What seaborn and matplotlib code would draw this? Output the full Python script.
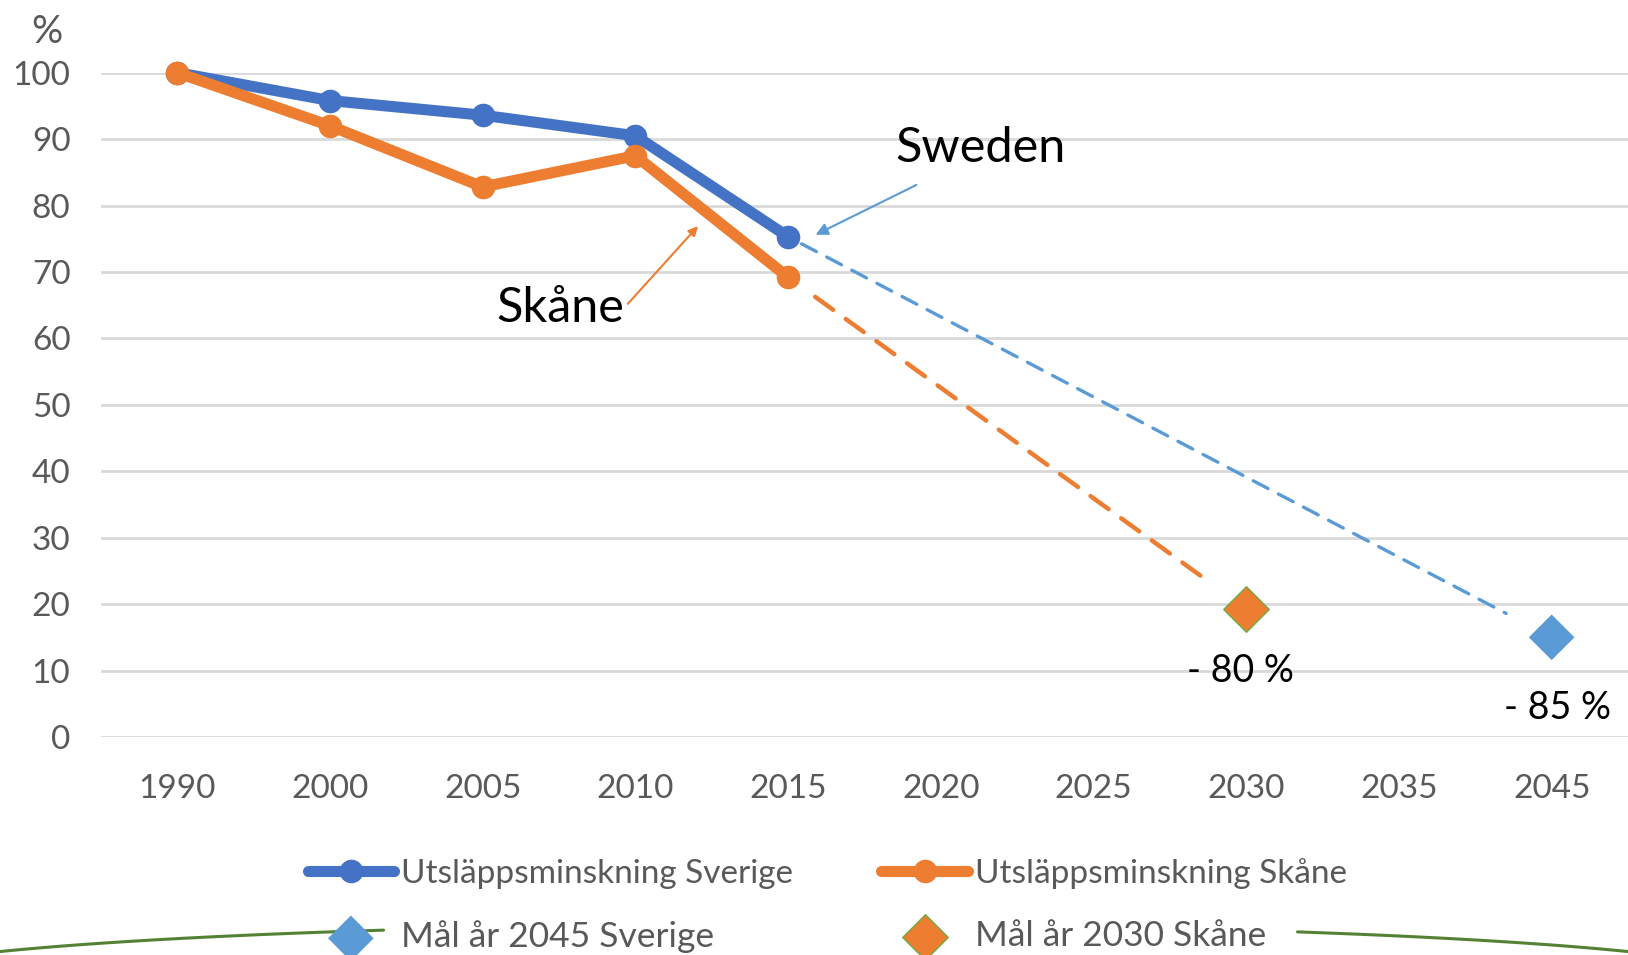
import numpy as np
import pandas as pd
import matplotlib.pyplot as plt
from matplotlib.lines import Line2D
import seaborn as sns

sns.set_theme(style="white")
plt.rcParams["font.family"] = ["Lato", "DejaVu Sans"]

# categories on the x axis (evenly spaced, as in the original)
years = ["1990", "2000", "2005", "2010", "2015", "2020", "2025", "2030", "2035", "2045"]
hist_years = ["1990", "2000", "2005", "2010", "2015"]
sverige = [100, 95.8, 93.6, 90.5, 75.3]
skane = [100, 92.0, 82.8, 87.5, 69.2]
goal_sverige_year, goal_sverige = "2045", 15.0
goal_skane_year, goal_skane = "2030", 19.3
goal_sverige_label = "- 85 %"
goal_skane_label = "- 80 %"
yticks = [0, 10, 20, 30, 40, 50, 60, 70, 80, 90, 100]

BLUE = "#4472C4"
LIGHT_BLUE = "#5B9BD5"
ORANGE = "#ED7D31"
GREEN = "#70AD47"
GREY = "#595959"

pos = {y: i for i, y in enumerate(years)}
df = pd.DataFrame({
    "x": [pos[y] for y in hist_years],
    "Sverige": sverige,
    "Skane": skane,
})

fig = plt.figure(figsize=(16.28, 9.55), dpi=100)
ax = fig.add_axes([0.062, 0.2283, 0.938, 0.6956])

sns.lineplot(data=df, x="x", y="Sverige", ax=ax, color=BLUE, lw=8, marker="o",
             markersize=17, markeredgewidth=0, label="Utsläppsminskning Sverige",
             clip_on=False, zorder=4)
sns.lineplot(data=df, x="x", y="Skane", ax=ax, color=ORANGE, lw=8, marker="o",
             markersize=17, markeredgewidth=0, label="Utsläppsminskning Skåne",
             clip_on=False, zorder=5)

# dashed projections towards the goals
ax.annotate("", xy=(pos[goal_sverige_year], goal_sverige), xytext=(pos["2015"], sverige[-1]),
            arrowprops=dict(arrowstyle="-", color=LIGHT_BLUE, lw=2.4, linestyle=(0, (5, 3.5)),
                            shrinkA=11, shrinkB=37))
ax.annotate("", xy=(pos[goal_skane_year], goal_skane), xytext=(pos["2015"], skane[-1]),
            arrowprops=dict(arrowstyle="-", color=ORANGE, lw=3.2, linestyle=(0, (5, 3.5)),
                            shrinkA=24, shrinkB=30))

sns.scatterplot(x=[pos[goal_sverige_year]], y=[goal_sverige], ax=ax, marker="D", s=540,
                color=LIGHT_BLUE, edgecolor="none", label="Mål år 2045 Sverige", zorder=6)
sns.scatterplot(x=[pos[goal_skane_year]], y=[goal_skane], ax=ax, marker="D", s=540,
                color=ORANGE, edgecolor=GREEN, linewidth=1, label="Mål år 2030 Skåne", zorder=6)

ax.text(pos[goal_skane_year] - 0.035, 10.0, goal_skane_label, ha="center", va="center",
        fontsize=27, color="black")
ax.text(pos[goal_sverige_year] + 0.04, 4.4, goal_sverige_label, ha="center", va="center",
        fontsize=27, color="black")

# series call-outs
ax.text(5.26, 88.6, "Sweden", ha="center", va="center", fontsize=35, color="black")
ax.annotate("", xy=(4.18, 75.6), xytext=(4.84, 83.1),
            arrowprops=dict(arrowstyle="-|>", color=LIGHT_BLUE, lw=1.5, mutation_scale=18,
                            shrinkA=0, shrinkB=0))
ax.text(2.51, 64.6, "Skåne", ha="center", va="center", fontsize=35, color="black")
ax.annotate("", xy=(3.41, 76.9), xytext=(2.95, 65.2),
            arrowprops=dict(arrowstyle="-|>", color=ORANGE, lw=1.5, mutation_scale=14,
                            shrinkA=0, shrinkB=0))

ax.set_xlim(-0.5, len(years) - 0.5)
ax.set_ylim(0, 100)
ax.set_xticks(range(len(years)))
ax.set_xticklabels(years)
ax.set_yticks(yticks)
ax.tick_params(axis="x", length=0, pad=27, labelsize=24, labelcolor=GREY)
ax.tick_params(axis="y", length=0, pad=22, labelsize=24, labelcolor=GREY)
ax.set_xlabel("")
ax.set_ylabel("")
ax.yaxis.grid(True, color="#D9D9D9", lw=2)
ax.set_axisbelow(True)
sns.despine(ax=ax, left=True, bottom=True, top=True, right=True)
fig.text(0.029, 0.966, "%", fontsize=28, color=GREY, ha="center", va="center")

# decorative green arc at the bottom of the slide
xs = np.linspace(0, 1628, 400)
ys = 924 + 56 * (1 - np.sqrt(1 - ((xs - 814) / 945) ** 2))
for m in [xs <= 387, xs >= 1294]:
    fig.add_artist(Line2D(xs[m] / 1628, 1 - ys[m] / 955, color="#548235", lw=2.2))

handles, labels = ax.get_legend_handles_labels()
ax.get_legend().remove()
order = [0, 2, 1, 3]
leg = fig.legend([handles[i] for i in order], [labels[i] for i in order], ncol=2,
                 loc="center", bbox_to_anchor=(0.508, 0.052), frameon=False,
                 fontsize=24, handlelength=2.6, handletextpad=0.2, columnspacing=2.65,
                 labelspacing=0.95, numpoints=1)
texts = leg.get_texts()
for t in texts:
    t.set_color(GREY)
texts[1].set_fontsize(25.5)
texts[3].set_fontsize(25.5)

fig.savefig("out.png", dpi=100, facecolor="white")
